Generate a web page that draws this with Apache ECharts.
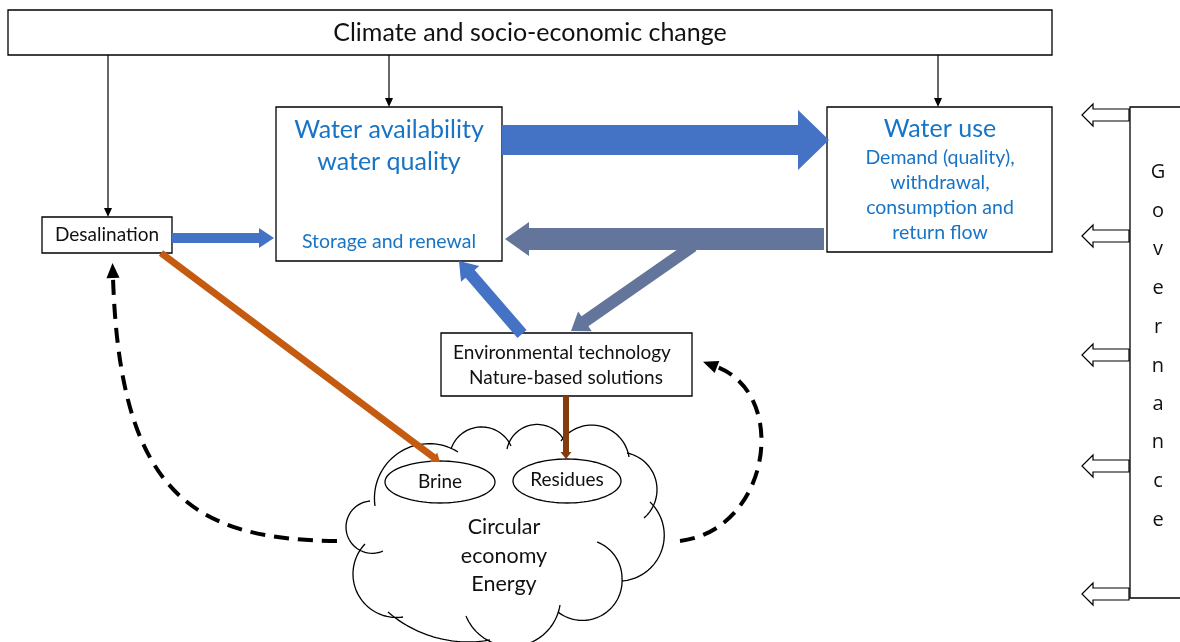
<!DOCTYPE html>
<html><head><meta charset="utf-8">
<script src="https://cdn.jsdelivr.net/npm/echarts@6/dist/echarts.min.js"></script>
<style>html,body{margin:0;padding:0;background:#fff}#c{width:1180px;height:642px}</style>
</head><body><div id="c"></div>
<script>
// ---------------- data (diagram units: x 0..1180, y 0..642 downward) ----------------
const boxes = [            // [x0, y0, x1, y1]
  [8, 10, 1052, 55],       // Climate and socio-economic change
  [276, 107, 502, 261],    // Water availability
  [827, 107, 1052, 252],   // Water use
  [42, 217, 172, 253],     // Desalination
  [441, 333, 692, 396]     // Environmental technology
];
const labelTexts = ['Climate and socio-economic change',
  'Water availability', 'water quality', 'Storage and renewal',
  'Water use', 'Demand (quality),', 'withdrawal,', 'consumption and', 'return flow',
  'Desalination', 'Environmental technology', 'Nature-based solutions',
  'Brine', 'Residues', 'Circular', 'economy', 'Energy'];
const labelX = [530, 389, 389, 389, 940, 940, 940, 940, 940, 107, 562, 566, 440, 567, 504, 504, 504];
const labelY = [33, 130, 162, 242, 129, 158, 183, 208, 233, 235, 353, 378, 482, 480, 527, 556, 584];
const labelKind = ['title', 'head', 'head', 'sub', 'head', 'sub', 'sub', 'sub', 'sub',
  'body', 'body', 'body', 'body', 'body', 'cloud', 'cloud', 'cloud'];

const govLetters = ['G', 'o', 'v', 'e', 'r', 'n', 'a', 'n', 'c', 'e'];
const govLetterY = [172, 211, 249, 288, 327, 366, 404, 442, 481, 520];
const govArrowY = [115, 236, 355, 466, 594];

const flowArrows = [        // [x0, y0, x1, y1] from -> to
  [502, 140, 829, 140],     // availability -> use
  [824, 239, 505, 239],     // return flow -> availability
  [693, 246, 571, 331],     // return flow -> environmental technology
  [522, 334, 459, 261],     // environmental technology -> availability
  [172, 238, 274, 238],     // desalination -> availability
  [161, 253, 440, 462],     // desalination -> brine
  [566, 396, 566, 459]      // environmental technology -> residues
];
const flowKind = ['bigBlue', 'bigGrey', 'grey', 'blue', 'smallBlue', 'orange', 'brown'];

const dropArrows = [[108, 55, 108, 217], [389, 55, 389, 107], [938, 55, 938, 107]];

const feedbackLoops = [     // cubic: start, ctrl1, ctrl2, end
  [337, 541, 190, 540, 120, 490, 113, 278],
  [680, 541, 770, 530, 790, 395, 717, 367]
];

const pools = [[440, 482, 55, 21], [567, 481, 54, 22]];   // cx, cy, rx, ry

const cloudArcs = [         // three points on each arc: start, middle, end
  [375, 506, 417, 445, 458, 452],
  [451, 449, 480, 427, 511, 446],
  [507, 449, 543, 425, 564, 440],
  [561, 441, 600, 426, 629, 457],
  [627, 453, 657, 490, 644, 518],
  [650, 502, 664, 540, 622, 581],
  [597, 542, 615, 556, 622, 578],
  [622, 578, 604, 614, 558, 612],
  [560, 605, 543, 635, 466, 616],
  [388, 612, 425, 634, 490, 640],
  [403, 617, 353, 575, 365, 544],
  [370, 501, 346, 527, 383, 551]
];

// ---------------- styles ----------------
const FONT = 'Lato, "Open Sans", sans-serif';
const textStyles = {
  title: { size: 25, color: '#111' },
  head: { size: 25, color: '#1874C4' },
  sub: { size: 19.5, color: '#1874C4' },
  body: { size: 19, color: '#111' },
  cloud: { size: 21.5, color: '#111' }
};
const flowStyles = {
  bigBlue: { w: 15, hw: 30, hl: 31, color: '#4472C4' },
  bigGrey: { w: 11, hw: 17, hl: 24, color: '#63759A' },
  grey: { w: 6, hw: 12, hl: 17, color: '#63759A' },
  blue: { w: 6, hw: 12, hl: 17, color: '#4472C4' },
  smallBlue: { w: 5, hw: 10, hl: 15, color: '#4472C4' },
  orange: { w: 3.5, hw: 6, hl: 8, color: '#C55A11' },
  brown: { w: 3, hw: 5.5, hl: 7, color: '#843C0C' }
};

// ---------------- helpers ----------------
function blockArrow(p0, p1, w, hw, hl) {
  const dx = p1[0] - p0[0], dy = p1[1] - p0[1];
  const L = Math.hypot(dx, dy), ux = dx / L, uy = dy / L, nx = -uy, ny = ux;
  const bx = p1[0] - ux * hl, by = p1[1] - uy * hl;
  return [
    [p0[0] + nx * w, p0[1] + ny * w], [bx + nx * w, by + ny * w], [bx + nx * hw, by + ny * hw],
    [p1[0], p1[1]],
    [bx - nx * hw, by - ny * hw], [bx - nx * w, by - ny * w], [p0[0] - nx * w, p0[1] - ny * w]
  ];
}
function arcThrough(a, m, e) {
  const ax = a[0], ay = a[1], bx = m[0], by = m[1], cx = e[0], cy = e[1];
  const d = 2 * (ax * (by - cy) + bx * (cy - ay) + cx * (ay - by));
  const ux = ((ax * ax + ay * ay) * (by - cy) + (bx * bx + by * by) * (cy - ay) + (cx * cx + cy * cy) * (ay - by)) / d;
  const uy = ((ax * ax + ay * ay) * (cx - bx) + (bx * bx + by * by) * (ax - cx) + (cx * cx + cy * cy) * (bx - ax)) / d;
  const r = Math.hypot(ax - ux, ay - uy);
  const TWO = Math.PI * 2, norm = t => ((t % TWO) + TWO) % TWO;
  const a0 = Math.atan2(ay - uy, ax - ux);
  const dm = norm(Math.atan2(by - uy, bx - ux) - a0), de = norm(Math.atan2(cy - uy, cx - ux) - a0);
  const sweep = dm < de ? de : de - TWO;
  const pts = [];
  for (let i = 0; i <= 40; i++) {
    const t = a0 + sweep * i / 40;
    pts.push([ux + r * Math.cos(t), uy + r * Math.sin(t)]);
  }
  return pts;
}

// ---------------- render items ----------------
function renderBox(params, api) {
  const p0 = api.coord([api.value(0), api.value(1)]);
  const p1 = api.coord([api.value(2), api.value(3)]);
  return {
    type: 'rect',
    shape: { x: Math.min(p0[0], p1[0]), y: Math.min(p0[1], p1[1]), width: Math.abs(p1[0] - p0[0]), height: Math.abs(p1[1] - p0[1]) },
    style: { fill: '#fff', stroke: '#000', lineWidth: 1.3 }
  };
}
function renderLabel(params, api) {
  const p = api.coord([api.value(0), api.value(1)]);
  const st = textStyles[labelKind[params.dataIndex]];
  return {
    type: 'text',
    style: { text: labelTexts[params.dataIndex], x: p[0], y: p[1], fill: st.color,
      font: st.size + 'px ' + FONT, textAlign: 'center', textVerticalAlign: 'middle' }
  };
}
function renderGovLetter(params, api) {
  const p = api.coord([api.value(0), api.value(1)]);
  return {
    type: 'text',
    style: { text: govLetters[params.dataIndex], x: p[0], y: p[1], fill: '#111',
      font: '20px "Open Sans", sans-serif', textAlign: 'center', textVerticalAlign: 'middle' }
  };
}
function renderFlow(params, api) {
  const p0 = api.coord([api.value(0), api.value(1)]);
  const p1 = api.coord([api.value(2), api.value(3)]);
  const s = flowStyles[flowKind[params.dataIndex]];
  return { type: 'polygon', shape: { points: blockArrow(p0, p1, s.w, s.hw, s.hl) }, style: { fill: s.color } };
}
function renderDrop(params, api) {
  const p0 = api.coord([api.value(0), api.value(1)]);
  const p1 = api.coord([api.value(2), api.value(3)]);
  return {
    type: 'group', children: [
      { type: 'line', shape: { x1: p0[0], y1: p0[1], x2: p1[0], y2: p1[1] - 7 }, style: { stroke: '#000', lineWidth: 1.2 } },
      { type: 'polygon', shape: { points: [[p1[0], p1[1]], [p1[0] - 4, p1[1] - 9], [p1[0] + 4, p1[1] - 9]] }, style: { fill: '#000' } }
    ]
  };
}
function renderLoop(params, api) {
  const P = [0, 2, 4, 6].map(i => api.coord([api.value(i), api.value(i + 1)]));
  const dx = P[3][0] - P[2][0], dy = P[3][1] - P[2][1], L = Math.hypot(dx, dy);
  const ux = dx / L, uy = dy / L, nx = -uy, ny = ux, hl = 15, hw = 6.5;
  const tip = [P[3][0] + ux * hl, P[3][1] + uy * hl];
  return {
    type: 'group', children: [
      { type: 'bezierCurve', shape: { x1: P[0][0], y1: P[0][1], cpx1: P[1][0], cpy1: P[1][1], cpx2: P[2][0], cpy2: P[2][1], x2: P[3][0], y2: P[3][1] },
        style: { stroke: '#000', lineWidth: 4, fill: null, lineDash: [15, 9] } },
      { type: 'polygon', shape: { points: [tip, [P[3][0] + nx * hw, P[3][1] + ny * hw], [P[3][0] - nx * hw, P[3][1] - ny * hw]] }, style: { fill: '#000' } }
    ]
  };
}
function renderPool(params, api) {
  const c = api.coord([api.value(0), api.value(1)]);
  const rx = api.value(2), ry = api.value(3), pts = [];
  for (let i = 0; i < 80; i++) { const t = i / 80 * Math.PI * 2; pts.push([c[0] + rx * Math.cos(t), c[1] + ry * Math.sin(t)]); }
  return { type: 'polygon', shape: { points: pts }, style: { fill: 'none', stroke: '#000', lineWidth: 1.3 } };
}
function renderCloud(params, api) {
  const a = api.coord([api.value(0), api.value(1)]);
  const m = api.coord([api.value(2), api.value(3)]);
  const e = api.coord([api.value(4), api.value(5)]);
  return { type: 'polyline', shape: { points: arcThrough(a, m, e) }, style: { stroke: '#000', lineWidth: 1.3, fill: null } };
}
function renderGov(params, api) {
  const p = api.coord([1129, api.value(0)]);
  const x = p[0], c = p[1];
  return {
    type: 'polygon',
    shape: { points: [[x - 47, c], [x - 36, c - 11], [x - 36, c - 6], [x, c - 6], [x, c + 6], [x - 36, c + 6], [x - 36, c + 11]] },
    style: { fill: '#fff', stroke: '#000', lineWidth: 1.2 }
  };
}
function renderGovFrame(params, api) {
  const p0 = api.coord([1130, 107]);
  const p1 = api.coord([1180, 598]);
  return {
    type: 'polyline',
    shape: { points: [[p1[0] + 5, p0[1]], [p0[0], p0[1]], [p0[0], p1[1]], [p1[0] + 5, p1[1]]] },
    style: { stroke: '#000', lineWidth: 1.3, fill: null }
  };
}

const chart = echarts.init(document.getElementById('c'), null, { renderer: 'canvas' });
chart.setOption({
  backgroundColor: '#fff',
  animation: false,
  grid: { left: 0, right: 0, top: 0, bottom: 0 },
  xAxis: { type: 'value', min: 0, max: 1180, show: false },
  yAxis: { type: 'value', min: 0, max: 642, inverse: true, show: false },
  series: [
    { type: 'custom', name: 'cloud', renderItem: renderCloud, data: cloudArcs, z: 1 },
    { type: 'custom', name: 'pools', renderItem: renderPool, data: pools, z: 2 },
    { type: 'custom', name: 'loops', renderItem: renderLoop, data: feedbackLoops, z: 2 },
    { type: 'custom', name: 'drops', renderItem: renderDrop, data: dropArrows, z: 2 },
    { type: 'custom', name: 'boxes', renderItem: renderBox, data: boxes, z: 3 },
    { type: 'custom', name: 'flows', renderItem: renderFlow, data: flowArrows, z: 4 },
    { type: 'custom', name: 'governanceFrame', renderItem: renderGovFrame, data: [[1130, 107]], z: 3 },
    { type: 'custom', name: 'governance', renderItem: renderGov, data: govArrowY.map(y => [y]), z: 4,
      encode: { x: -1, y: 0 } },
    { type: 'custom', name: 'labels', renderItem: renderLabel, data: labelX.map((x, i) => [x, labelY[i]]), z: 5 },
    { type: 'custom', name: 'govLetters', renderItem: renderGovLetter, data: govLetterY.map(y => [1158, y]), z: 5 }
  ]
});
</script>
</body></html>
